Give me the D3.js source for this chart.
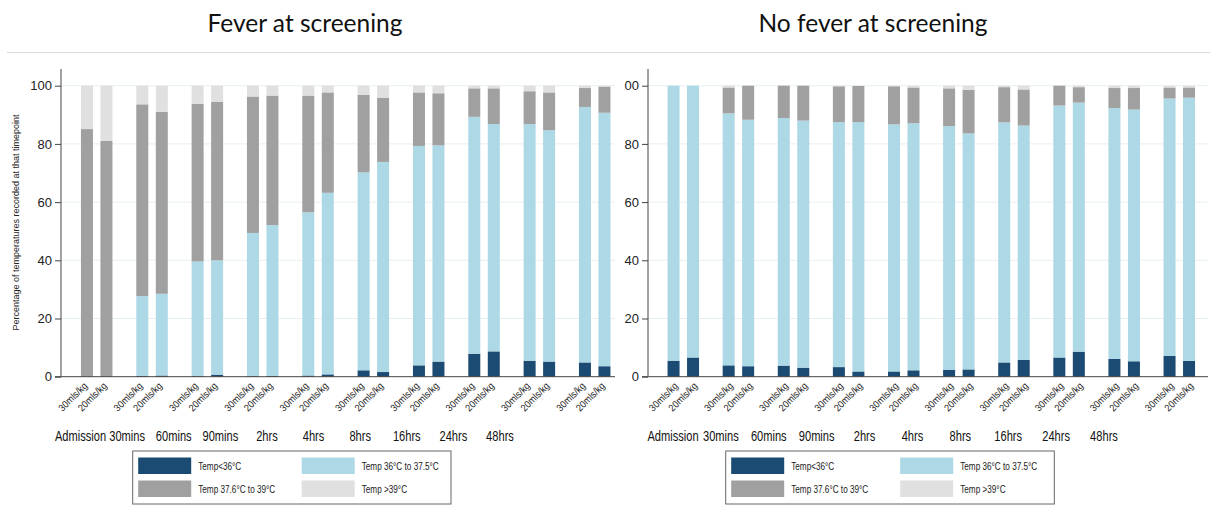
<!DOCTYPE html>
<html>
<head>
<meta charset="utf-8">
<script src="https://cdn.jsdelivr.net/npm/d3@7"></script>
<style>
  body { margin: 0; background: #fff; }
  svg { display: block; }
  .narrow { font-family: Arial, "Liberation Sans", sans-serif; }
</style>
</head>
<body>
<svg id="chart" width="1210" height="523"></svg>
<script>
// timepoints, doses and temperature bands
const timepoints = ['Admission', '30mins', '60mins', '90mins', '2hrs', '4hrs', '8hrs', '16hrs', '24hrs', '48hrs'];
const doses = ['30mls/kg', '20mls/kg'];
const bands = ['Temp<36°C', 'Temp 36°C to 37.5°C', 'Temp 37.6°C to 39°C', 'Temp >39°C'];
const bandColors = ['#1b4a72', '#add8e6', '#a0a0a0', '#e0e0e0'];
const yTicks = [0, 20, 40, 60, 80, 100];

// Fever at screening: [30mls/kg, 20mls/kg] per timepoint
const feverBelow36 = [[0, 0], [0.3, 0.4], [0.2, 0.7], [0.2, 0.3], [0.4, 0.8], [2.2, 1.6], [3.9, 5.2], [7.9, 8.7], [5.5, 5.2], [4.9, 3.6]];
const fever36to375 = [[0, 0], [27.4, 28.1], [39.4, 39.3], [49.2, 51.8], [56.1, 62.4], [68.0, 72.2], [75.4, 74.3], [81.4, 78.1], [81.3, 79.5], [87.8, 87.1]];
const fever376to39 = [[85.1, 81.0], [65.9, 62.5], [54.2, 54.4], [46.9, 44.5], [40.1, 34.5], [26.7, 22.1], [18.4, 17.9], [9.8, 12.3], [11.3, 13.0], [6.5, 9.0]];
const feverAbove39 = [[14.9, 19.0], [6.4, 9.0], [6.2, 5.6], [3.7, 3.4], [3.4, 2.3], [3.1, 4.1], [2.3, 2.6], [0.9, 0.9], [1.9, 2.3], [0.8, 0.3]];

// No fever at screening
const noFeverBelow36 = [[5.5, 6.6], [3.9, 3.6], [3.8, 3.1], [3.3, 1.8], [1.8, 2.2], [2.4, 2.5], [4.9, 5.8], [6.6, 8.6], [6.1, 5.3], [7.2, 5.4]];
const noFever36to375 = [[94.5, 93.4], [86.6, 84.7], [85.1, 84.9], [84.2, 85.7], [84.9, 84.9], [83.7, 81.1], [82.5, 80.5], [86.6, 85.6], [86.2, 86.5], [88.4, 90.5]];
const noFever376to39 = [[0, 0], [8.9, 11.7], [11.1, 12.0], [12.3, 12.4], [13.1, 12.3], [13.0, 15.0], [12.1, 12.4], [6.8, 5.3], [6.9, 7.4], [3.8, 3.5]];
const noFeverAbove39 = [[0, 0], [0.6, 0], [0, 0], [0.2, 0.1], [0.2, 0.6], [0.9, 1.4], [0.5, 1.3], [0, 0.5], [0.8, 0.8], [0.6, 0.6]];

const svg = d3.select('#chart');

// thin separator under the titles
svg.append('line')
    .attr('x1', 7).attr('x2', 1210)
    .attr('y1', 52.5).attr('y2', 52.5)
    .style('stroke', '#d9d9d9').style('stroke-width', 1.2);

// clip for the right panel (its left edge cuts the "1" of 100)
svg.append('defs').append('clipPath').attr('id', 'clipRight')
    .append('rect').attr('x', 624).attr('y', 0).attr('width', 600).attr('height', 523);

drawPanel(svg.append('g'), {
    title: 'Fever at screening', titleX: 305,
    series: [feverBelow36, fever36to375, fever376to39, feverAbove39],
    axisX: 61, axisEnd: 615,
    groupRange: [96.7, 594.7], labelRange: [80.5, 500],
    doseShift: 1,
    legendX: 132.7, legendW: 318.3, legendCol2: 163.5,
    yLabel: true
});

drawPanel(svg.append('g').attr('clip-path', 'url(#clipRight)'), {
    title: 'No fever at screening', titleX: 873,
    series: [noFeverBelow36, noFever36to375, noFever376to39, noFeverAbove39],
    axisX: 648, axisEnd: 1208,
    groupRange: [683.3, 1179.3], labelRange: [673, 1104],
    doseShift: 5,
    legendX: 725.7, legendW: 328.6, legendCol2: 169,
    yLabel: false
});

function drawPanel(g, o) {
    const y = d3.scaleLinear().domain([0, 100]).range([376.7, 85.7]);
    const gx = d3.scalePoint().domain(timepoints).range(o.groupRange);
    const dx = d3.scalePoint().domain(doses).range([-9.75, 9.75]);
    const lx = d3.scalePoint().domain(timepoints).range(o.labelRange);
    const barW = 12;

    // title
    g.append('text')
        .attr('x', o.titleX).attr('y', 32)
        .attr('text-anchor', 'middle')
        .style('font-family', 'Lato, "Open Sans", sans-serif')
        .style('font-size', '24.5px')
        .style('fill', '#111')
        .text(o.title);

    // gridlines
    g.selectAll('.grid').data(yTicks.filter(d => d > 0)).join('line')
        .attr('x1', o.axisX).attr('x2', o.axisEnd)
        .attr('y1', d => y(d)).attr('y2', d => y(d))
        .style('stroke', '#e6f0f0').style('stroke-width', 1);

    // one row per bar
    const rows = [];
    timepoints.forEach((t, i) => {
        doses.forEach((d, j) => {
            const r = { time: t, dose: d };
            bands.forEach((b, k) => { r[b] = o.series[k][i][j]; });
            rows.push(r);
        });
    });
    const stacked = d3.stack().keys(bands)(rows);

    g.selectAll('.layer').data(stacked).join('g')
        .style('fill', (d, i) => bandColors[i])
        .selectAll('rect').data(d => d).join('rect')
        .attr('x', d => gx(d.data.time) + dx(d.data.dose) - barW / 2)
        .attr('width', barW)
        .attr('y', d => y(d[1]))
        .attr('height', d => Math.max(0, y(d[0]) - y(d[1])));

    // y axis
    const ax = g.append('g')
        .attr('transform', `translate(${o.axisX},0)`)
        .call(d3.axisLeft(y).tickValues(yTicks).tickSize(6).tickPadding(3));
    ax.select('.domain').remove();
    ax.selectAll('line').style('stroke', '#444');
    ax.selectAll('text')
        .style('font-family', 'Arial, "Liberation Sans", sans-serif')
        .style('font-size', '13px')
        .style('fill', '#222');
    g.append('line')
        .attr('x1', o.axisX).attr('x2', o.axisX)
        .attr('y1', 69).attr('y2', y(0))
        .style('stroke', '#444');
    g.append('line')
        .attr('x1', o.axisX - 6).attr('x2', o.axisEnd)
        .attr('y1', y(0)).attr('y2', y(0))
        .style('stroke', '#444');

    if (o.yLabel) {
        g.append('text')
            .attr('transform', 'translate(19,222.5) rotate(-90)')
            .attr('text-anchor', 'middle')
            .style('font-family', 'Arial, "Liberation Sans", sans-serif')
            .style('font-size', '9px')
            .style('fill', '#222')
            .text('Percentage of temperatures recorded at that timepoint');
    }

    // dose labels, rotated
    g.selectAll('.dose').data(rows).join('text')
        .attr('class', 'narrow')
        .attr('transform', d => `translate(${gx(d.time) + dx(d.dose) + o.doseShift},386.5) rotate(-45) scale(0.9,1)`)
        .attr('text-anchor', 'end')
        .style('font-size', '10px')
        .style('fill', '#222')
        .text(d => d.dose);

    // timepoint labels (condensed look)
    g.selectAll('.time').data(timepoints).join('text')
        .attr('class', 'narrow')
        .attr('transform', d => `translate(${lx(d)},441) scale(0.74,1)`)
        .attr('text-anchor', 'middle')
        .style('font-size', '15px')
        .style('fill', '#111')
        .text(d => d);

    // legend
    const lg = g.append('g').attr('transform', `translate(${o.legendX},451)`);
    lg.append('rect')
        .attr('width', o.legendW).attr('height', 53)
        .style('fill', '#fff').style('stroke', '#666').style('stroke-width', 1);
    bands.forEach((b, i) => {
        const col = i % 2, row = Math.floor(i / 2);
        const kx = 5.5 + col * o.legendCol2, ky = 6.5 + row * 23;
        lg.append('rect')
            .attr('x', kx).attr('y', ky).attr('width', 53).attr('height', 16.5)
            .style('fill', bandColors[i]);
        lg.append('text')
            .attr('class', 'narrow')
            .attr('transform', `translate(${kx + 60},${ky + 12}) scale(0.82,1)`)
            .style('font-size', '10px')
            .style('fill', '#222')
            .text(b);
    });
}
</script>
</body>
</html>
